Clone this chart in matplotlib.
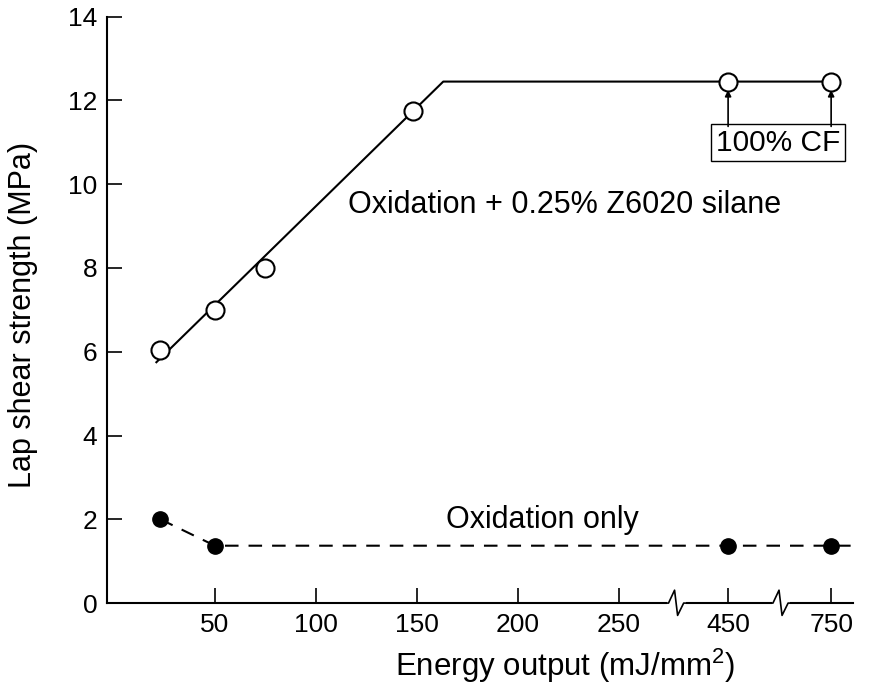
import numpy as np
import matplotlib
matplotlib.use("Agg")
import matplotlib.pyplot as plt
from matplotlib.scale import FuncScale
import matplotlib.transforms as mtransforms

plt.rcParams['font.family'] = ['Liberation Sans', 'DejaVu Sans']
plt.rcParams['mathtext.fontset'] = 'custom'
plt.rcParams['mathtext.rm'] = 'Liberation Sans'
plt.rcParams['mathtext.it'] = 'Liberation Sans:italic'

# ---- data ----
silane_x = [23, 50, 75, 148, 450, 750]
silane_y = [6.05, 7.0, 8.0, 11.75, 12.45, 12.45]
silane_fit_x = [21, 163, 757]
silane_fit_y = [5.75, 12.45, 12.45]
oxid_x = [23, 50, 450, 750]
oxid_y = [2.0, 1.37, 1.37, 1.37]
oxid_line_x = [23, 50, 772]
oxid_line_y = [2.0, 1.37, 1.37]
xticks = [50, 100, 150, 200, 250, 450, 750]
xticklabels = ['50', '100', '150', '200', '250', '450', '750']
yticks = [0, 2, 4, 6, 8, 10, 12, 14]

# piecewise (broken) axis mapping
E_knots = np.array([-100, 278, 400, 500, 700, 900], float)
P_knots = np.array([-100, 278, 279, 329, 330, 430], float)
def fwd(x):
    return np.interp(x, E_knots, P_knots)
def inv(p):
    return np.interp(p, P_knots, E_knots)

fig = plt.figure(figsize=(8.69, 6.94), dpi=100)
ax = fig.add_axes([0.123, 0.131, 0.859, 0.845])
ax.set_xscale(FuncScale(ax, (fwd, inv)))
ax.set_xlim(inv(-3.5), inv(366))
ax.set_ylim(0, 14)

ax.plot(silane_fit_x, silane_fit_y, color='black', lw=1.5, zorder=2)
ax.plot(silane_x, silane_y, 'o', ms=13, mfc='white', mec='black', mew=1.5, zorder=3, ls='none')
ax.plot(oxid_line_x, oxid_line_y, color='black', lw=1.5, dashes=(6.5, 4.8), zorder=2)
ax.plot(oxid_x, oxid_y, 'o', ms=11, color='black', zorder=3, ls='none')

for s in ['top', 'right']:
    ax.spines[s].set_visible(False)
for s in ['left', 'bottom']:
    ax.spines[s].set_linewidth(1.5)

ax.set_xticks(xticks)
ax.set_xticklabels(xticklabels)
ax.set_yticks(yticks)
ax.tick_params(direction='in', length=11, width=1.2, labelsize=19, pad=7)
ax.tick_params(axis='y', pad=7)

fig.text(0.650, 0.040, 'Energy output (mJ/mm$^2$)', fontsize=22.5, ha='center', va='center')
fig.text(0.027, 0.546, 'Lap shear strength (MPa)', fontsize=22, ha='center', va='center',
         rotation=90)

# axis break marks
trans = mtransforms.blended_transform_factory(ax.transData, ax.transAxes)
for bp in [278.5, 330.2]:
    ax.plot([inv(bp - 4.5), inv(bp + 4.5)], [0, 0], color='white', lw=4,
            transform=trans, clip_on=False, zorder=5, solid_capstyle='butt')
    zx = [bp - 6.0, bp - 4.0, bp - 1.0, bp + 0.5, bp + 3.5, bp + 6.0]
    zy = [0, 0, 0.022, -0.021, 0, 0]
    ax.plot([inv(v) for v in zx], zy, color='black', lw=1.2,
            transform=trans, clip_on=False, zorder=6)

ax.text(223, 9.51, 'Oxidation + 0.25% Z6020 silane', fontsize=22, ha='center', va='center')
ax.text(212, 1.98, 'Oxidation only', fontsize=22, ha='center', va='center')

ax.text(inv(328.7), 10.99, '100% CF', fontsize=21.5, ha='center', va='center',
        bbox=dict(boxstyle='square,pad=0.15', fc='white', ec='black', lw=1.0))
for px in [450, 750]:
    ax.annotate('', xy=(px, 12.25), xytext=(px, 11.38),
                arrowprops=dict(arrowstyle='-|>', color='black', lw=1.2,
                                mutation_scale=9, shrinkA=0, shrinkB=0))

fig.savefig('out.png', dpi=100)
